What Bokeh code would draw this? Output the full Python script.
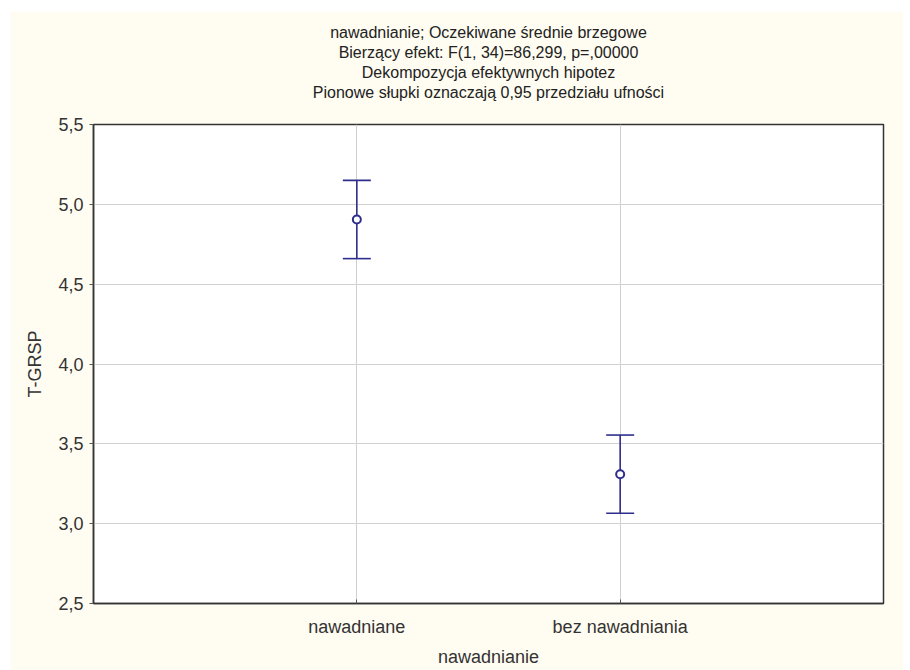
from bokeh.plotting import figure
from bokeh.models import Range1d, FixedTicker, Whisker, TeeHead, ColumnDataSource, Title
from bokeh.embed import file_html
from bokeh.resources import INLINE

# data
categories = ["nawadniane", "bez nawadniania"]
cat_pos = [1, 2]
means = [4.905, 3.31]
lower = [4.66, 3.065]
upper = [5.15, 3.555]
y_ticks = [2.5, 3.0, 3.5, 4.0, 4.5, 5.0, 5.5]
y_tick_labels = ["2,5", "3,0", "3,5", "4,0", "4,5", "5,0", "5,5"]
title_lines = [
    "nawadnianie; Oczekiwane średnie brzegowe",
    "Bierzący efekt: F(1, 34)=86,299, p=,00000",
    "Dekompozycja efektywnych hipotez",
    "Pionowe słupki oznaczają 0,95 przedziału ufności",
]

FONT = "Liberation Sans"
CREAM = "#FFFCF1"
NAVY = "#2E2E8C"

p = figure(width=893, height=659, output_backend="svg", toolbar_location=None,
           x_range=Range1d(0, 3), y_range=Range1d(2.5, 5.5),
           min_border_left=83, min_border_right=20, min_border_top=113,
           min_border_bottom=67)
p.margin = (11, 0, 0, 10)
p.background_fill_color = "white"
p.border_fill_color = CREAM
p.outline_line_color = "#333333"
p.outline_line_width = 1.5

# spacer between frame and the title block
p.add_layout(Title(text=" ", text_font=FONT, text_font_size="12px", standoff=7), "above")
# titles (added closest-first)
for line in reversed(title_lines):
    t = Title(text=line, align="center", text_font=FONT, text_font_size="16px",
              text_font_style="normal", text_color="#222222", standoff=0.7)
    p.add_layout(t, "above")

src = ColumnDataSource(dict(x=cat_pos, m=means, lo=lower, hi=upper))
w = Whisker(source=src, base="x", lower="lo", upper="hi", dimension="height",
            line_color=NAVY, line_width=1.6,
            lower_head=TeeHead(size=28, line_color=NAVY, line_width=1.6),
            upper_head=TeeHead(size=28, line_color=NAVY, line_width=1.6))
p.add_layout(w)
p.scatter("x", "m", source=src, size=8, marker="circle", fill_color="white",
          line_color=NAVY, line_width=2)

# axes
p.xaxis.ticker = FixedTicker(ticks=cat_pos)
p.xaxis.major_label_overrides = {c: l for c, l in zip(cat_pos, categories)}
p.yaxis.ticker = FixedTicker(ticks=y_ticks)
p.yaxis.major_label_overrides = {t: l for t, l in zip(y_ticks, y_tick_labels)}
p.xaxis.axis_label = "nawadnianie"
p.yaxis.axis_label = "T-GRSP"
for ax in (p.xaxis[0], p.yaxis[0]):
    ax.axis_line_color = "#333333"
    ax.axis_line_width = 1.5
    ax.major_tick_line_color = "#555555"
    ax.minor_tick_line_color = None
    ax.major_label_text_font = FONT
    ax.major_label_text_font_size = "18px"
    ax.major_label_text_color = "#333333"
    ax.axis_label_text_font = FONT
    ax.axis_label_text_font_size = "18px"
    ax.axis_label_text_font_style = "normal"
    ax.axis_label_text_color = "#333333"
p.yaxis.major_tick_out = 4
p.yaxis.major_tick_in = 0
p.yaxis.major_label_standoff = 6
p.yaxis.axis_label_standoff = 10
p.xaxis.major_tick_out = 0
p.xaxis.major_tick_in = 4
p.xaxis.major_label_standoff = 13
p.xaxis.axis_label_standoff = 7

p.xgrid.grid_line_color = "#D0D0D0"
p.ygrid.grid_line_color = "#D0D0D0"

open("out.html", "w").write(file_html(p, INLINE))
